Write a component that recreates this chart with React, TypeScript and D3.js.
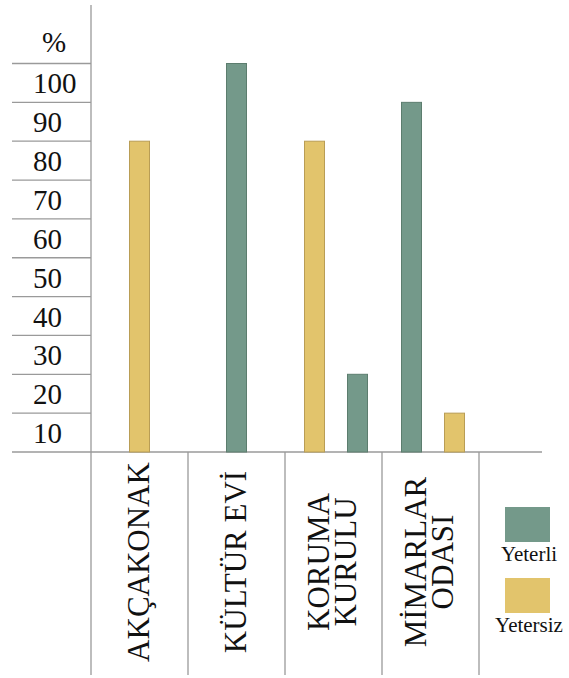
import React from "react";
import * as d3 from "d3";

const categories = ["AKÇAKONAK", "KÜLTÜR EVİ", "KORUMA KURULU", "MİMARLAR ODASI"];
const categoryLines = [["AKÇAKONAK"], ["KÜLTÜR EVİ"], ["KORUMA", "KURULU"], ["MİMARLAR", "ODASI"]];
const seriesNames = ["Yeterli", "Yetersiz"];
const yeterli = [0, 100, 20, 90];
const yetersiz = [80, 0, 80, 10];
const barOrder = [["Yetersiz"], ["Yeterli"], ["Yetersiz", "Yeterli"], ["Yeterli", "Yetersiz"]];
const tickValues = [100, 90, 80, 70, 60, 50, 40, 30, 20, 10];

const W = 569;
const H = 678;
const FONT = "'Liberation Serif', 'Times New Roman', serif";
const colors: Record<string, string> = { Yeterli: "#74998a", Yetersiz: "#e2c46c" };
const strokes: Record<string, string> = { Yeterli: "#5c7d6e", Yetersiz: "#b99d55" };
const GRID = "#9a9a9a";

export default function App() {
  const y = d3.scaleLinear().domain([0, 100]).range([452, 63.5]);
  const x = d3.scaleBand<string>().domain(categories).range([91, 479]);
  const valueOf = (s: string, i: number) => (s === "Yeterli" ? yeterli[i] : yetersiz[i]);
  const base = y(0);
  const axisX = 91;
  const leftX = 12;

  return (
    <svg width={W} height={H} style={{ position: "absolute", left: 0, top: 0, background: "#fff" }} fontFamily={FONT}>
      <line x1={axisX} x2={axisX} y1={5} y2={675} stroke={GRID} strokeWidth={1.3} />
      {tickValues.map((v) => (
        <line key={"g" + v} x1={leftX} x2={axisX} y1={y(v)} y2={y(v)} stroke={GRID} strokeWidth={1.3} />
      ))}
      <line x1={leftX} x2={542} y1={base} y2={base} stroke={GRID} strokeWidth={1.3} />
      {categories.map((c) => (
        <line key={"s" + c} x1={(x(c) as number) + x.bandwidth()} x2={(x(c) as number) + x.bandwidth()} y1={base} y2={675} stroke={GRID} strokeWidth={1.3} />
      ))}
      <text x={42} y={52} fontSize={29} fill="#111">%</text>
      {tickValues.map((v) => (
        <text key={"t" + v} x={33} y={(y(v) + y(v - 10)) / 2 + 10.5} fontSize={29} fill="#111">
          {v}
        </text>
      ))}
      {categories.map((c, i) => {
        const cx = (x(c) as number) + x.bandwidth() / 2;
        const inner = d3.scalePoint<string>().domain(barOrder[i]).range([-19, 24]);
        const bw = 20;
        return barOrder[i].map((s) => {
          const v = valueOf(s, i);
          const off = barOrder[i].length === 1 ? 0 : (inner(s) as number);
          const bx = cx + off - bw / 2;
          return (
            <rect key={c + s} x={bx} y={y(v)} width={bw} height={base - y(v)} fill={colors[s]} stroke={strokes[s]} strokeWidth={1} />
          );
        });
      })}
      {categories.map((c, i) => {
        const cx = (x(c) as number) + x.bandwidth() / 2;
        const lines = categoryLines[i];
        const lh = 27;
        return lines.map((ln, j) => {
          const lx = cx + (j - (lines.length - 1) / 2) * lh + 9;
          const ly = 562;
          return (
            <text key={c + ln} x={lx} y={ly} fontSize={31} fill="#111" textAnchor="middle" transform={`rotate(-90 ${lx} ${ly})`}>
              {ln}
            </text>
          );
        });
      })}
      {seriesNames.map((s, i) => (
        <g key={"l" + s} transform={`translate(0, ${i * 71})`}>
          <rect x={505} y={507} width={45} height={35} fill={colors[s]} />
          <text x={529} y={561} fontSize={21} textAnchor="middle" fill="#111">
            {s}
          </text>
        </g>
      ))}
    </svg>
  );
}
